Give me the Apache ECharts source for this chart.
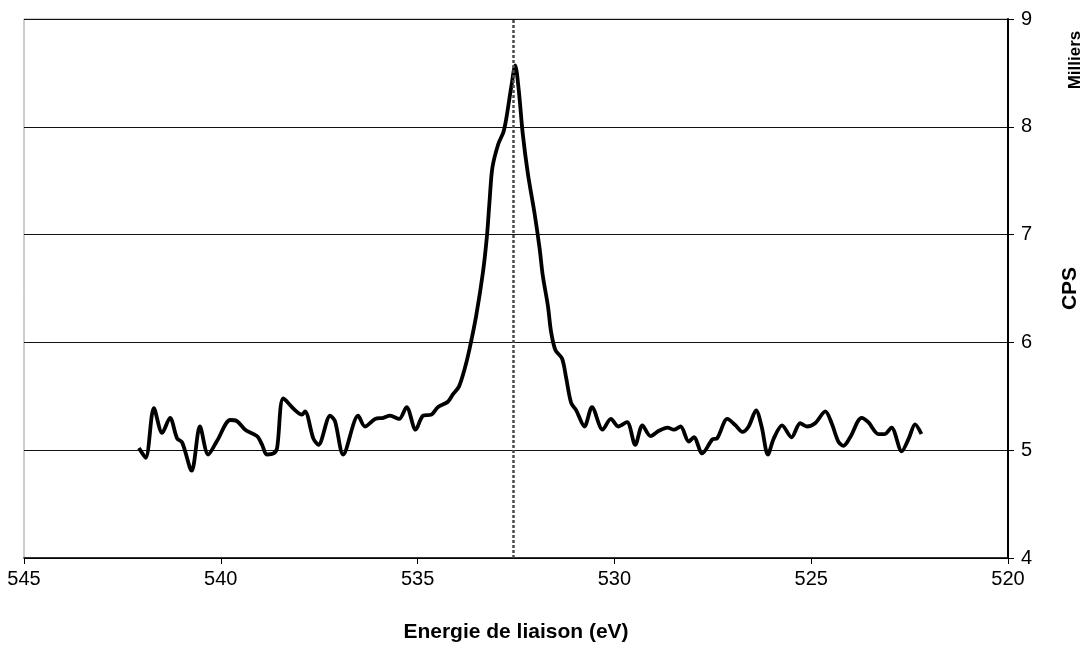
<!DOCTYPE html>
<html>
<head>
<meta charset="utf-8">
<title>Spectre O 1s</title>
<script src="https://cdn.jsdelivr.net/npm/echarts@6/dist/echarts.min.js"></script>
<style>
  html, body { margin: 0; padding: 0; background: #fff; }
  #chart { width: 1089px; height: 648px; }
</style>
</head>
<body>
<div id="chart"></div>
<script>
// Binding energy (eV), scanned from high to low
const energies = [
  542.08, 541.91, 541.70, 541.49, 541.29, 541.11, 540.98, 540.74, 540.53, 540.32,
  540.09, 539.76, 539.59, 539.38, 539.08, 538.95, 538.83, 538.66, 538.57, 538.41,
  538.11, 537.94, 537.86, 537.65, 537.52, 537.22, 537.10, 536.89, 536.51, 536.34,
  536.08, 535.87, 535.70, 535.47, 535.28, 535.05, 534.86, 534.65, 534.48, 534.23,
  534.10, 533.95, 533.80, 533.68, 533.51, 533.34, 533.24, 533.17, 533.10, 532.95,
  532.82, 532.75, 532.62, 532.52, 532.43, 532.33, 532.20, 532.03, 531.90, 531.82,
  531.69, 531.61, 531.50, 531.33, 531.23, 531.10, 530.97, 530.76, 530.57, 530.30,
  530.09, 529.90, 529.68, 529.47, 529.29, 529.08, 528.87, 528.65, 528.49, 528.32,
  528.11, 527.98, 527.77, 527.51, 527.39, 527.13, 526.92, 526.75, 526.59, 526.40,
  526.26, 526.10, 525.95, 525.74, 525.50, 525.28, 525.11, 524.90, 524.64, 524.48,
  524.31, 524.18, 524.01, 523.72, 523.55, 523.29, 523.13, 522.96, 522.70, 522.52,
  522.36, 522.20
];

// Counts per second, in thousands
const cps = [
  5.02, 4.93, 5.39, 5.16, 5.30, 5.11, 5.07, 4.81, 5.22, 4.96,
  5.09, 5.28, 5.27, 5.19, 5.13, 5.05, 4.96, 4.97, 5.02, 5.48,
  5.37, 5.33, 5.36, 5.11, 5.05, 5.32, 5.27, 4.96, 5.32, 5.22,
  5.29, 5.30, 5.32, 5.29, 5.40, 5.19, 5.32, 5.33, 5.40, 5.45,
  5.52, 5.59, 5.76, 5.94, 6.25, 6.65, 6.98, 7.32, 7.62, 7.84,
  7.95, 8.07, 8.37, 8.57, 8.34, 7.94, 7.57, 7.20, 6.87, 6.62,
  6.34, 6.10, 5.93, 5.85, 5.68, 5.44, 5.37, 5.22, 5.40, 5.19,
  5.29, 5.22, 5.26, 5.05, 5.23, 5.13, 5.18, 5.21, 5.19, 5.22,
  5.08, 5.12, 4.97, 5.10, 5.11, 5.29, 5.23, 5.17, 5.22, 5.37,
  5.22, 4.96, 5.11, 5.23, 5.12, 5.25, 5.22, 5.25, 5.36, 5.25,
  5.08, 5.04, 5.12, 5.30, 5.26, 5.15, 5.15, 5.21, 4.99, 5.11,
  5.24, 5.15
];

// Peak position marker (eV)
const peakEnergy = 532.57;

// Axis ranges and tick spacing
const xRange = [520, 545];
const xStep = 5;
const yRange = [4, 9];
const yStep = 1;

const points = energies.map((e, i) => [e, cps[i]]);

const chart = echarts.init(document.getElementById('chart'), null, { renderer: 'canvas' });

const font = '"Liberation Sans", Arial, Helvetica, sans-serif';
const narrowFont = '"Liberation Sans Narrow", "Liberation Sans", Arial, sans-serif';

chart.setOption({
  animation: false,
  backgroundColor: '#ffffff',
  textStyle: { fontFamily: font },
  grid: {
    left: 24, right: 79, top: 19, bottom: 88,
    show: true,
    borderColor: '#9a9a9a',
    borderWidth: 1,
    containLabel: false
  },
  xAxis: {
    type: 'value',
    inverse: true,
    min: xRange[0],
    max: xRange[1],
    interval: xStep,
    name: 'Energie de liaison (eV)',
    nameLocation: 'middle',
    nameGap: 64,
    nameTextStyle: { fontSize: 21, fontWeight: 'bold', color: '#000', fontFamily: font },
    axisLine: { show: true, onZero: false, lineStyle: { color: '#000', width: 1.5 } },
    axisTick: { show: true, inside: false, length: 6, lineStyle: { color: '#000', width: 1 } },
    axisLabel: { fontSize: 20, color: '#000', margin: 11, fontFamily: font },
    splitLine: { show: false }
  },
  yAxis: {
    type: 'value',
    position: 'right',
    min: yRange[0],
    max: yRange[1],
    interval: yStep,
    name: 'CPS',
    nameLocation: 'middle',
    nameGap: 52,
    nameRotate: 90,
    nameTextStyle: { fontSize: 21, fontWeight: 'bold', color: '#000', fontFamily: font },
    axisLine: { show: true, onZero: false, lineStyle: { color: '#000', width: 2 } },
    axisTick: { show: true, inside: false, length: 6, lineStyle: { color: '#000', width: 1 } },
    axisLabel: { fontSize: 20, color: '#000', margin: 13, fontFamily: font },
    splitLine: { show: true, lineStyle: { color: '#111', width: 1 } }
  },
  graphic: [
    {
      type: 'text',
      x: 1075,
      y: 60,
      rotation: Math.PI / 2,
      style: {
        text: 'Milliers',
        font: 'bold 17px ' + narrowFont,
        fill: '#000',
        align: 'center',
        verticalAlign: 'middle'
      }
    }
  ],
  series: [
    {
      type: 'line',
      data: points,
      showSymbol: false,
      smooth: 0.3,
      lineStyle: { color: '#000', width: 3.8 },
      z: 3,
      markLine: {
        silent: true,
        symbol: ['none', 'none'],
        label: { show: false },
        lineStyle: { color: '#4a4a4a', width: 2.5, type: [3, 2] },
        data: [{ xAxis: peakEnergy }]
      }
    }
  ]
});
</script>
</body>
</html>
